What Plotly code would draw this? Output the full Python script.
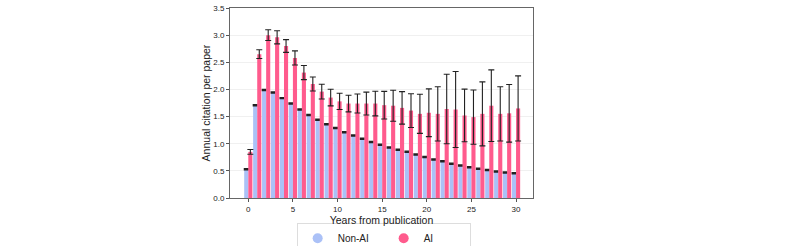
import plotly.graph_objects as go

years = list(range(31))
non_ai = [0.53, 1.71, 1.99, 1.945, 1.84, 1.74, 1.63, 1.53, 1.44, 1.36, 1.29, 1.21, 1.15, 1.09, 1.03,
          0.98, 0.93, 0.89, 0.85, 0.80, 0.755, 0.71, 0.675, 0.63, 0.60, 0.565, 0.54, 0.515, 0.49, 0.47, 0.455]
non_ai_err = [0.008] * 31
ai = [0.85, 2.65, 3.0, 2.96, 2.80, 2.58, 2.31, 2.10, 1.96, 1.85, 1.78, 1.74, 1.74, 1.74, 1.74,
      1.71, 1.70, 1.66, 1.61, 1.55, 1.57, 1.55, 1.64, 1.63, 1.52, 1.49, 1.55, 1.70, 1.55, 1.56, 1.65]
ai_err = [0.043, 0.08, 0.10, 0.12, 0.117, 0.13, 0.13, 0.13, 0.135, 0.153, 0.15, 0.153, 0.175, 0.21, 0.227,
          0.255, 0.285, 0.30, 0.31, 0.36, 0.44, 0.50, 0.64, 0.70, 0.485, 0.50, 0.59, 0.66, 0.50, 0.53, 0.60]
x_ticks = [0, 5, 10, 15, 20, 25, 30]
y_ticks = [0, 0.5, 1, 1.5, 2, 2.5, 3, 3.5]
y_tick_labels = ["0.0", "0.5", "1.0", "1.5", "2.0", "2.5", "3.0", "3.5"]

BLUE = "#abc1f7"
PINK = "#ff5b8d"

fig = go.Figure()
fig.add_trace(go.Bar(x=years, y=non_ai, marker_color=BLUE, marker_line_width=0, name="Non-AI",
                     showlegend=False,
                     error_y=dict(type="data", array=non_ai_err, color="#222222", thickness=1.6, width=2.5)))
fig.add_trace(go.Bar(x=years, y=ai, marker_color=PINK, marker_line_width=0, name="AI",
                     showlegend=False,
                     error_y=dict(type="data", array=ai_err, color="#222222", thickness=1.1, width=3)))
# legend entries with circle markers
fig.add_trace(go.Scatter(x=[None], y=[None], mode="markers", name="Non-AI",
                         marker=dict(color=BLUE, size=10, symbol="circle")))
fig.add_trace(go.Scatter(x=[None], y=[None], mode="markers", name="AI",
                         marker=dict(color=PINK, size=10, symbol="circle")))

fig.update_layout(
    width=793, height=246,
    margin=dict(l=230, r=260, t=8, b=48, autoexpand=False),
    paper_bgcolor="white", plot_bgcolor="white",
    barmode="group", bargap=0.08, bargroupgap=0.0,
    font=dict(family="Liberation Sans, Arial, sans-serif", size=8, color="#222222"),
    legend=dict(orientation="h", x=0.22, xanchor="left", y=-0.13, yanchor="top",
                bordercolor="#dddddd", borderwidth=1, font=dict(size=10),
                itemwidth=30, entrywidthmode="pixels", entrywidth=41),
)
fig.update_xaxes(range=[-2.05, 31.9], tickvals=x_ticks,
                 ticks="outside", ticklen=3, tickcolor="#555555",
                 showline=True, linecolor="#666666", linewidth=1, mirror=True,
                 showgrid=False, zeroline=False,
                 title=dict(text="Years from publication", font=dict(size=10.5), standoff=1))
fig.update_yaxes(range=[0, 3.5], tickvals=y_ticks, ticktext=y_tick_labels,
                 ticks="outside", ticklen=3, tickcolor="#555555",
                 showline=True, linecolor="#666666", linewidth=1, mirror=True,
                 showgrid=True, gridcolor="#f0f0f0", zeroline=False,
                 title=dict(text="Annual citation per paper", font=dict(size=10.5), standoff=0))

fig.write_html("out.html", config={"displayModeBar": False},
               post_script="document.body.style.margin='0';")
